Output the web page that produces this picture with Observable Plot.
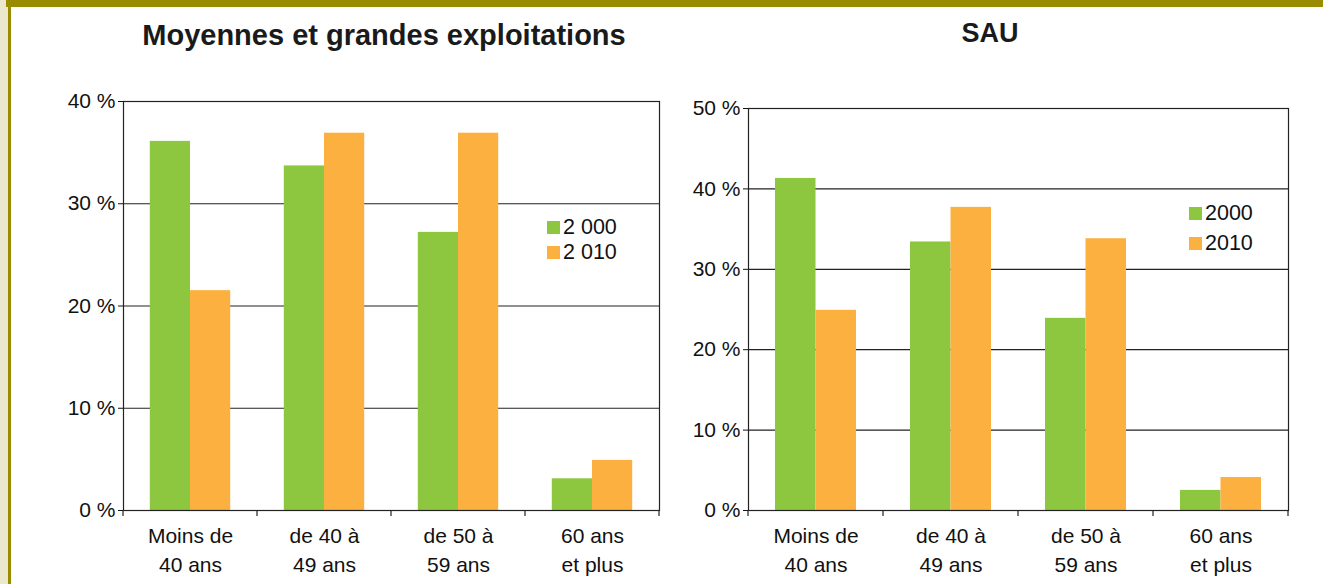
<!DOCTYPE html>
<html><head><meta charset="utf-8">
<script src="https://cdn.jsdelivr.net/npm/d3@7"></script>
<script src="https://cdn.jsdelivr.net/npm/@observablehq/plot@0.6"></script>
<style>
body{margin:0;background:#fff;font-family:"Liberation Sans",Arial,Helvetica,sans-serif;}
#root{position:relative;width:1323px;height:584px;overflow:hidden;background:#fff}
.deco{position:absolute}
.title{position:absolute;font-weight:bold;color:#1a1a1a;white-space:nowrap;transform:translate(-50%,-50%);line-height:1}
.chart{position:absolute}
.legend{position:absolute;font-size:21.5px;color:#111}
.legend .row{display:flex;align-items:center;white-space:nowrap}
.legend .sw{width:13px;height:13px;margin-right:3px}
</style></head><body><div id="root">
<div class="deco" style="left:0;top:0;width:8px;height:584px;background:#ece8cd"></div>
<div class="deco" style="left:6px;top:0;width:1317px;height:7px;background:#998c00"></div>
<div class="deco" style="left:8px;top:0;width:3px;height:584px;background:#998c00"></div>
<div class="title" id="t1" style="left:384px;top:35px;font-size:29px"></div>
<div class="title" id="t2" style="left:990px;top:33px;font-size:27px"></div>
<div class="chart" id="c1" style="left:0;top:80px"></div>
<div class="chart" id="c2" style="left:680px;top:80px"></div>
<div class="legend" id="l1" style="left:547px;top:215px"></div>
<div class="legend" id="l2" style="left:1189px;top:198px"></div>
</div>
<script>
const titles = ["Moyennes et grandes exploitations", "SAU"];
const categories = ["Moins de\n40 ans", "de 40 à\n49 ans", "de 50 à\n59 ans", "60 ans\net plus"];
const exploit2000 = [36.1, 33.7, 27.2, 3.1];
const exploit2010 = [21.5, 36.9, 36.9, 4.9];
const sau2000 = [41.3, 33.4, 23.9, 2.5];
const sau2010 = [24.9, 37.7, 33.8, 4.1];
const legendLeft = ["2 000", "2 010"];
const legendRight = ["2000", "2010"];
const ticksLeft = [0, 10, 20, 30, 40];
const ticksRight = [0, 10, 20, 30, 40, 50];
const colors = ["#8dc63f", "#fbb040"];
const FONT = '"Liberation Sans", Arial, Helvetica, sans-serif';

function makeChart(a, b, ticks, dims) {
  const rowsA = categories.map((c, i) => ({category: c, value: a[i]}));
  const rowsB = categories.map((c, i) => ({category: c, value: b[i]}));
  const bw = (dims.width - dims.ml - dims.mr) / categories.length;
  const chart = Plot.plot({
    width: dims.width, height: dims.height,
    marginLeft: dims.ml, marginRight: dims.mr, marginTop: dims.mt, marginBottom: dims.mb,
    style: {fontFamily: FONT, fontSize: "21px", color: "#111", background: "transparent", overflow: "visible"},
    x: {domain: categories, padding: 0, label: null},
    y: {domain: [0, ticks[ticks.length - 1]], label: null},
    marks: [
      Plot.gridY(ticks, {stroke: "#222", strokeOpacity: 1, strokeWidth: 1.2}),
      Plot.barY(rowsA, {x: "category", y: "value", fill: colors[0], insetLeft: bw * 0.2, insetRight: bw * 0.5}),
      Plot.barY(rowsB, {x: "category", y: "value", fill: colors[1], insetLeft: bw * 0.5, insetRight: bw * 0.2}),
      Plot.frame({stroke: "#222", strokeWidth: 1.2}),
      Plot.axisY({ticks, tickFormat: d => `${d} %`, tickSize: 5, tickPadding: 3, fontSize: 21, label: null}),
      Plot.axisX({tickSize: 0, tickPadding: 12, fontSize: 21, lineHeight: 1.38, label: null})
    ]
  });
  // category boundary ticks below the baseline
  const sx = chart.scale("x");
  const sy = chart.scale("y");
  const step = sx.step ?? sx.bandwidth;
  const y0 = sy.range[0];
  const svg = d3.select(chart);
  for (let i = 0; i <= categories.length; i++) {
    const xx = sx.range[0] + i * step;
    svg.append("line").attr("x1", xx).attr("x2", xx).attr("y1", y0).attr("y2", y0 + 6)
      .attr("stroke", "#222").attr("stroke-width", 1.2);
  }
  return chart;
}

document.getElementById("t1").textContent = titles[0];
document.getElementById("t2").textContent = titles[1];
document.getElementById("c1").appendChild(makeChart(exploit2000, exploit2010, ticksLeft,
  {width: 680, height: 504, ml: 123, mr: 21, mt: 21, mb: 74}));
document.getElementById("c2").appendChild(makeChart(sau2000, sau2010, ticksRight,
  {width: 643, height: 504, ml: 68, mr: 35, mt: 28, mb: 74}));

function legend(id, labels, gap) {
  const el = document.getElementById(id);
  labels.forEach((lab, i) => {
    const row = document.createElement("div");
    row.className = "row";
    row.style.height = gap + "px";
    const sw = document.createElement("div");
    sw.className = "sw";
    sw.style.background = colors[i];
    const t = document.createElement("span");
    t.textContent = lab;
    row.appendChild(sw); row.appendChild(t);
    el.appendChild(row);
  });
}
legend("l1", legendLeft, 25);
legend("l2", legendRight, 30);
</script>
</body></html>
